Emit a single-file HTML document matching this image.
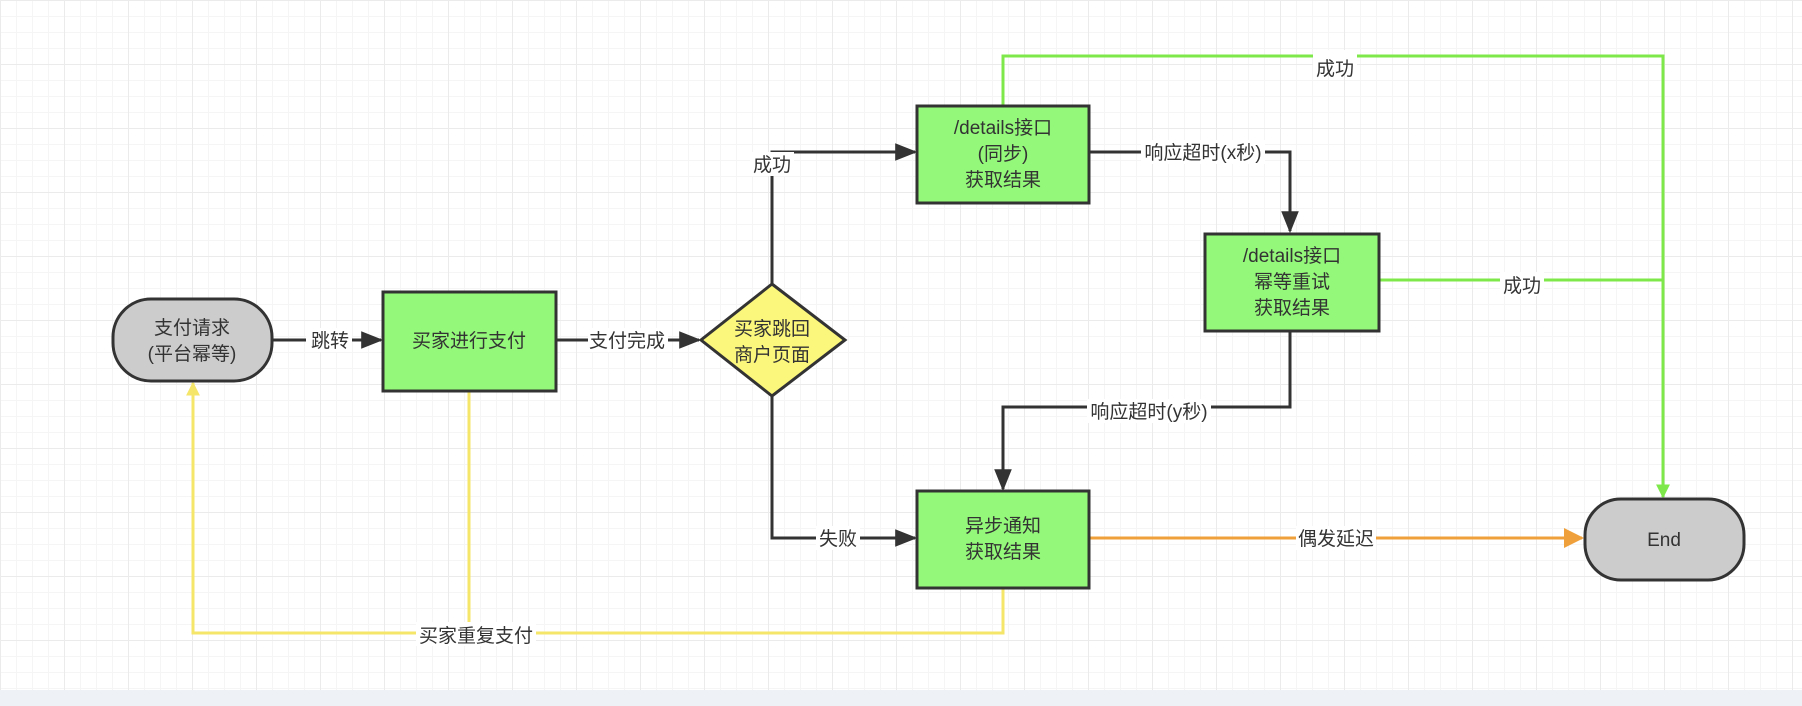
<!DOCTYPE html>
<html><head><meta charset="utf-8"><style>
html,body{margin:0;padding:0;}
body{width:1802px;height:706px;overflow:hidden;background:#fff;
background-image:linear-gradient(#ebebeb 1px,transparent 1px),linear-gradient(90deg,#ebebeb 1px,transparent 1px),linear-gradient(#f5f5f5 1px,transparent 1px),linear-gradient(90deg,#f5f5f5 1px,transparent 1px);
background-size:64px 64px,64px 64px,16px 16px,16px 16px;}
svg{position:absolute;left:0;top:0}
text{font-family:"Liberation Sans","Noto Sans CJK SC",sans-serif;font-size:19px;fill:#333;text-anchor:middle}
.bot{position:absolute;left:0;top:690px;width:1802px;height:16px;background:#eef1f5}
</style></head><body>
<div class="bot"></div>
<svg width="1802" height="706" viewBox="0 0 1802 706">
<defs>
<marker id="ag" viewBox="0 0 10 10" markerWidth="14" markerHeight="14" refX="9" refY="5" orient="auto" markerUnits="userSpaceOnUse"><path d="M0,0 L10,5 L0,10 Z" fill="#7ee84a"/></marker>
<marker id="ao" viewBox="0 0 10 10" markerWidth="20" markerHeight="20" refX="9" refY="5" orient="auto" markerUnits="userSpaceOnUse"><path d="M0,0 L10,5 L0,10 Z" fill="#f0a03a"/></marker>
<marker id="ay" viewBox="0 0 10 10" markerWidth="14" markerHeight="14" refX="9" refY="5" orient="auto" markerUnits="userSpaceOnUse"><path d="M0,0 L10,5 L0,10 Z" fill="#f5e66a"/></marker>
<marker id="ab" viewBox="0 0 10 10" markerWidth="22" markerHeight="22" refX="9" refY="5" orient="auto" markerUnits="userSpaceOnUse"><path d="M0,1 L10,5 L0,9 Z" fill="#333"/></marker>
</defs>
<g fill="none" stroke="#7ee84a" stroke-width="3">
<path d="M1003 105 V56 H1663 V497" marker-end="url(#ag)"/>
<path d="M1379 280 H1663"/>
</g>
<g fill="none" stroke="#f5e66a" stroke-width="3">
<path d="M469 391 V633"/>
<path d="M1003 588 V633 H193 V383" marker-end="url(#ay)"/>
</g>
<path d="M1089 538 H1582" stroke="#f0a03a" stroke-width="3" fill="none" marker-end="url(#ao)"/>
<g fill="none" stroke="#333" stroke-width="3">
<path d="M272 340 H381" marker-end="url(#ab)"/>
<path d="M556 340 H699" marker-end="url(#ab)"/>
<path d="M772 284 V152 H915" marker-end="url(#ab)"/>
<path d="M772 396 V538 H915" marker-end="url(#ab)"/>
<path d="M1089 152 H1290 V231" marker-end="url(#ab)"/>
<path d="M1290 332 V407 H1003 V489" marker-end="url(#ab)"/>
</g>
<g stroke="#333" stroke-width="3">
<rect x="113" y="299" width="159" height="82" rx="38" fill="#cccccc"/>
<rect x="383" y="292" width="173" height="99" fill="#94f97a"/>
<polygon points="772,284 845,340 772,396 701,340" fill="#fbf77c"/>
<rect x="917" y="106" width="172" height="97" fill="#94f97a"/>
<rect x="1205" y="234" width="174" height="97" fill="#94f97a"/>
<rect x="917" y="491" width="172" height="97" fill="#94f97a"/>
<rect x="1585" y="499" width="159" height="81" rx="36" fill="#cccccc"/>
</g>
<text x="192" y="334">支付请求</text>
<text x="192" y="360">(平台幂等)</text>
<text x="469" y="347">买家进行支付</text>
<text x="772" y="335">买家跳回</text>
<text x="772" y="361">商户页面</text>
<text x="1003" y="134">/details接口</text>
<text x="1003" y="160">(同步)</text>
<text x="1003" y="186">获取结果</text>
<text x="1292" y="262">/details接口</text>
<text x="1292" y="288">幂等重试</text>
<text x="1292" y="314">获取结果</text>
<text x="1003" y="532">异步通知</text>
<text x="1003" y="558">获取结果</text>
<text x="1664" y="546">End</text>
<g>
<rect x="306" y="328" width="46" height="24" fill="#fff"/><text x="330" y="347">跳转</text>
<rect x="588" y="328" width="80" height="24" fill="#fff"/><text x="627" y="347">支付完成</text>
<rect x="750" y="152" width="44" height="24" fill="#fff"/><text x="772" y="171">成功</text>
<rect x="816" y="526" width="44" height="24" fill="#fff"/><text x="838" y="545">失败</text>
<rect x="1141" y="140" width="124" height="24" fill="#fff"/><text x="1203" y="159">响应超时(x秒)</text>
<rect x="1087" y="399" width="124" height="24" fill="#fff"/><text x="1149" y="418">响应超时(y秒)</text>
<rect x="1313" y="50" width="44" height="24" fill="#fff"/><text x="1335" y="75">成功</text>
<rect x="1500" y="272" width="44" height="24" fill="#fff"/><text x="1522" y="292">成功</text>
<rect x="1296" y="526" width="80" height="24" fill="#fff"/><text x="1336" y="545">偶发延迟</text>
<rect x="416" y="622" width="120" height="24" fill="#fff"/><text x="476" y="642">买家重复支付</text>
</g>
</svg>
</body></html>
